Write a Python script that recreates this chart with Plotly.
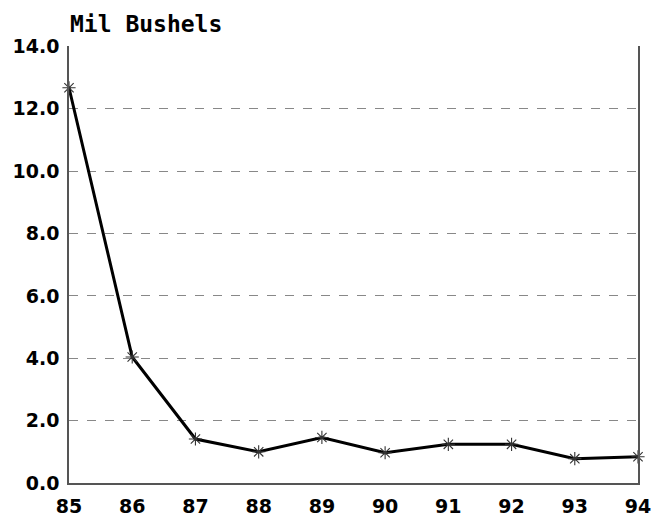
import plotly.graph_objects as go

years = ["85", "86", "87", "88", "89", "90", "91", "92", "93", "94"]
values = [12.67, 4.04, 1.41, 1.0, 1.46, 0.97, 1.24, 1.24, 0.78, 0.84]
y_ticks = [0, 2, 4, 6, 8, 10, 12, 14]
y_tick_labels = ["0.0", "2.0", "4.0", "6.0", "8.0", "10.0", "12.0", "14.0"]

x_idx = list(range(len(years)))

fig = go.Figure()
fig.add_trace(go.Scatter(
    x=x_idx, y=values, mode="lines+markers",
    line=dict(color="black", width=3),
    marker=dict(symbol="asterisk-open", size=11, color="#333333",
                line=dict(color="#333333", width=1.1)),
    cliponaxis=False, showlegend=False,
))

fig.update_layout(
    width=664, height=515,
    margin=dict(l=61, r=34, t=38, b=40),
    paper_bgcolor="white", plot_bgcolor="white",
    font=dict(family="DejaVu Sans", color="black"),
    annotations=[dict(
        text="<b>Mil Bushels</b>", xref="paper", yref="paper",
        x=0, y=1, xanchor="left", yanchor="bottom", yshift=7, xshift=-1,
        showarrow=False, font=dict(family="DejaVu Sans Mono", size=23, color="black"),
    )],
)
fig.update_xaxes(
    range=[0, len(years) - 1], tickvals=x_idx, ticktext=["<b>%s</b>" % y for y in years],
    showgrid=False, zeroline=False, showline=True, linecolor="#555555", linewidth=1.5,
    ticks="", ticklabelstandoff=5, automargin=False,
    tickfont=dict(size=19, family="DejaVu Sans", color="black"),
)
fig.update_yaxes(
    range=[0, 14.01], tickvals=y_ticks, ticktext=["<b>%s</b>" % t for t in y_tick_labels],
    showgrid=True, gridcolor="#888888", griddash="dash", gridwidth=1,
    zeroline=False, showline=True, mirror=True, linecolor="#555555", linewidth=1.5,
    ticks="", ticklabelstandoff=4, automargin=False,
    tickfont=dict(size=19, family="DejaVu Sans", color="black"),
)

fig.write_html("out.html")
